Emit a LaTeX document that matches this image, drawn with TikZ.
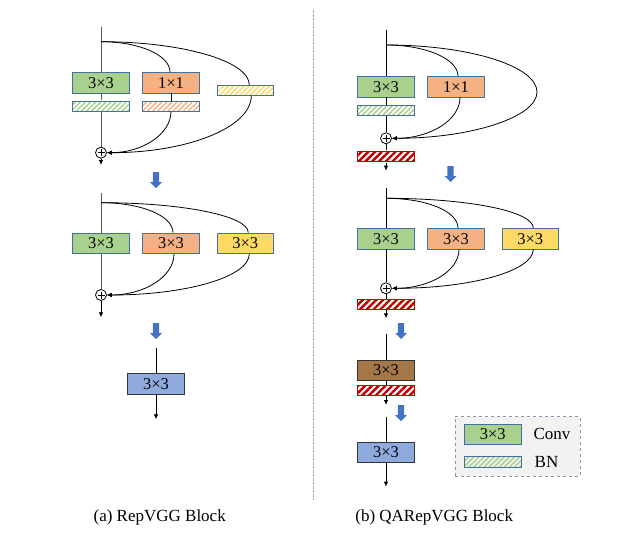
\documentclass[tikz,border=0pt]{standalone}
\usepackage{fontspec}
\setmainfont{Liberation Serif}
\usetikzlibrary{arrows.meta,patterns.meta}

\definecolor{convgreen}{HTML}{A9D18E}
\definecolor{convorange}{HTML}{F4B183}
\definecolor{convyellow}{HTML}{FFD966}
\definecolor{convblue}{HTML}{8FAADC}
\definecolor{convbrown}{HTML}{A57746}
\definecolor{edgeblue}{HTML}{41719C}
\definecolor{bnred}{HTML}{C00000}
\definecolor{arrblue}{HTML}{4472C4}
\definecolor{legendgray}{HTML}{F2F2F2}
\definecolor{legendedge}{HTML}{8497B0}

% blue block arrow between the stages
\newcommand{\stagearrow}[1]{\fill[arrblue] (#1) ++(-3.2,8) -- ++(6.4,0) -- ++(0,-10) -- ++(2.8,0) -- ++(-6,-6) -- ++(-6,6) -- ++(2.8,0) -- cycle;}

\tikzset{
  conv/.style={draw=edgeblue, line width=0.8pt, minimum width=56.6pt, minimum height=20.5pt,
    inner sep=0pt, font=\fontsize{16.5}{18}\selectfont},
  bn/.style={draw=edgeblue, line width=0.8pt, minimum width=56.6pt, minimum height=10pt,
    inner sep=0pt, pattern={Lines[angle=45,distance=3.6pt,line width=1.5pt]}},
  bnq/.style={draw=bnred, line width=0.8pt, minimum width=56.6pt, minimum height=10pt,
    inner sep=0pt, pattern={Lines[angle=45,distance=4.8pt,line width=2.4pt]}, pattern color=bnred},
  addnode/.style={circle, draw, line width=0.8pt, minimum size=11pt, inner sep=0pt,
    path picture={\draw[line width=0.8pt] ([xshift=-3.5pt]path picture bounding box.center) -- ([xshift=3.5pt]path picture bounding box.center)
      ([yshift=-3.5pt]path picture bounding box.center) -- ([yshift=3.5pt]path picture bounding box.center);}},
  split/.style 2 args={out=0, in=90, out distance=#1, in distance=#2},
  merge/.style 2 args={out=-90, in=0, out distance=#1, in distance=#2},
}

\begin{document}
\begin{tikzpicture}[x=1pt, y=1pt, line width=0.8pt, >={Latex[length=5pt,width=4.5pt]}]
      \useasboundingbox (0,0) rectangle (633,-554);
      % (a) RepVGG, training block
      \coordinate (ta) at (101,-27);
      \coordinate (sa) at (101,-41.7);
      \node[conv, fill=convgreen] (ca1) at (101,-82.7) {3×3};
      \node[conv, fill=convorange] (ca2) at (171,-82.7) {1×1};
      \node[bn, pattern color=convgreen] (ba1) at (101,-106) {};
      \node[bn, pattern color=convorange] (ba2) at (171,-106) {};
      \node[bn, pattern color=convyellow] (ba3) at (245.3,-90.3) {};
      \node[addnode] (pa) at (101,-152.7) {};
      \coordinate (ea) at (101,-165);
      \draw[black!65] (ta) -- (ca1.north);
      \draw[black!65] (ca1.south) -- (ba1.north);
      \draw[black!65] (ba1.south) -- (pa.north);
      \draw[->] (pa.south) -- (ea);
      \draw (sa) to[split={38pt}{17pt}] ([xshift=-1pt]ca2.north);
      \draw (ca2.south) -- (ba2.north);
      \draw (sa) to[split={81pt}{24pt}] ([xshift=4pt]ba3.north);
      \draw[->] (ba2.south) to[merge={23pt}{35pt}] (pa.east);
      \draw[->] ([xshift=6pt]ba3.south) to[merge={32pt}{80pt}] (pa.east);
      \stagearrow{156,-180}
      % (a) three branches
      \coordinate (tb) at (101,-192.7);
      \coordinate (sb) at (101,-202.7);
      \node[conv, fill=convgreen] (cb1) at (101,-243.3) {3×3};
      \node[conv, fill=convorange] (cb2) at (171,-243.3) {3×3};
      \node[conv, fill=convyellow] (cb3) at (245.3,-243.3) {3×3};
      \node[addnode] (pb) at (101,-295) {};
      \coordinate (eb) at (101,-317.3);
      \draw[black!65] (tb) -- (cb1.north);
      \draw[black!65] (cb1.south) -- (pb.north);
      \draw[->] (pb.south) -- (eb);
      \draw (sb) to[split={40pt}{17pt}] ([xshift=2pt]cb2.north);
      \draw (sb) to[split={81pt}{17pt}] ([xshift=3pt]cb3.north);
      \draw[->] ([xshift=3pt]cb2.south) to[merge={23pt}{37pt}] (pb.east);
      \draw[->] ([xshift=4pt]cb3.south) to[merge={23pt}{79pt}] (pb.east);
      \stagearrow{156,-331}
      % (a) deploy
      \coordinate (tc) at (156,-348.3);
      \node[conv, fill=convblue, draw=black!80] (cc1) at (156,-383.7) {3×3};
      \coordinate (ec) at (156,-419.3);
      \draw (tc) -- (cc1.north);
      \draw[->] (cc1.south) -- (ec);
      % separator
      \draw[black!35, line width=1pt, dash pattern=on 2.5pt off 1.5pt] (313.3,-10) -- (313.3,-500);
      % (b) QARepVGG, training block
      \coordinate (td) at (386,-30);
      \coordinate (sd) at (386,-45);
      \node[conv, fill=convgreen] (cd1) at (386,-86.7) {3×3};
      \node[conv, fill=convorange] (cd2) at (456,-86.7) {1×1};
      \node[bn, pattern color=convgreen] (bd1) at (386,-110.8) {};
      \coordinate (rd) at (537,-92);
      \node[addnode] (pd) at (386,-138.3) {};
      \node[bnq] (qd) at (386,-156.3) {};
      \coordinate (ed) at (386,-170.7);
      \draw (td) -- (cd1.north);
      \draw (cd1.south) -- (bd1.north);
      \draw (bd1.south) -- (pd.north);
      \draw (pd.south) -- (qd.north);
      \draw[->] (qd.south) -- (ed);
      \draw (sd) to[split={40pt}{17pt}] ([xshift=2pt]cd2.north);
      \draw[->] ([xshift=4pt]cd2.south) to[merge={23pt}{38pt}] (pd.east);
      \draw[->] (sd) to[split={83pt}{26pt}] (rd) to[merge={25pt}{80pt}] (pd.east);
      \stagearrow{450.5,-174}
      % (b) three branches
      \coordinate (te) at (386,-188.3);
      \coordinate (se) at (386,-198.3);
      \node[conv, fill=convgreen] (ce1) at (386,-238.7) {3×3};
      \node[conv, fill=convorange] (ce2) at (456,-238.7) {3×3};
      \node[conv, fill=convyellow] (ce3) at (530.3,-238.7) {3×3};
      \node[addnode] (pe) at (386,-288.3) {};
      \node[bnq] (qe) at (386,-304.2) {};
      \coordinate (ee) at (386,-318.3);
      \draw (te) -- (ce1.north);
      \draw (ce1.south) -- (pe.north);
      \draw (pe.south) -- (qe.north);
      \draw[->] (qe.south) -- (ee);
      \draw (se) to[split={40pt}{17pt}] ([xshift=2pt]ce2.north);
      \draw (se) to[split={81pt}{17pt}] ([xshift=3pt]ce3.north);
      \draw[->] ([xshift=3pt]ce2.south) to[merge={22pt}{37pt}] (pe.east);
      \draw[->] ([xshift=3pt]ce3.south) to[merge={22pt}{78pt}] (pe.east);
      \stagearrow{401,-331}
      % (b) conv with BN
      \coordinate (tf) at (386,-334);
      \node[conv, fill=convbrown, draw=black!80] (cf1) at (386,-370.3) {3×3};
      \node[bnq] (qf) at (386,-390) {};
      \coordinate (ef) at (386,-405);
      \draw (tf) -- (cf1.north);
      \draw (cf1.south) -- (qf.north);
      \draw[->] (qf.south) -- (ef);
      \stagearrow{401,-413}
      % (b) deploy
      \coordinate (tg) at (386,-416.7);
      \node[conv, fill=convblue, draw=black!80] (cg1) at (386,-452.2) {3×3};
      \coordinate (eg) at (386,-486.7);
      \draw (tg) -- (cg1.north);
      \draw[->] (cg1.south) -- (eg);
      % legend
      \node[draw=legendedge, fill=legendgray, dashed, line width=1pt, minimum width=125pt,
        minimum height=59.3pt, inner sep=0pt] (lg) at (517.5,-446.35) {};
      \node[conv, fill=convgreen, minimum height=20pt] (lgconv) at (492.7,-434.3) {3×3};
      \node[bn, pattern color=convgreen, minimum height=11pt] (lgbn) at (492.7,-462.2) {};
      \node[font=\fontsize{17}{18}\selectfont] (lgconvtext) at (552,-434.3) {Conv};
      \node[font=\fontsize{17}{18}\selectfont] (lgbntext) at (546.5,-462.3) {BN};
      % captions
      \node[font=\fontsize{17}{19}\selectfont] (capa) at (159.7,-517) {(a) RepVGG Block};
      \node[font=\fontsize{17}{19}\selectfont] (capb) at (434.2,-517) {(b) QARepVGG Block};
    \end{tikzpicture}
\end{document}
